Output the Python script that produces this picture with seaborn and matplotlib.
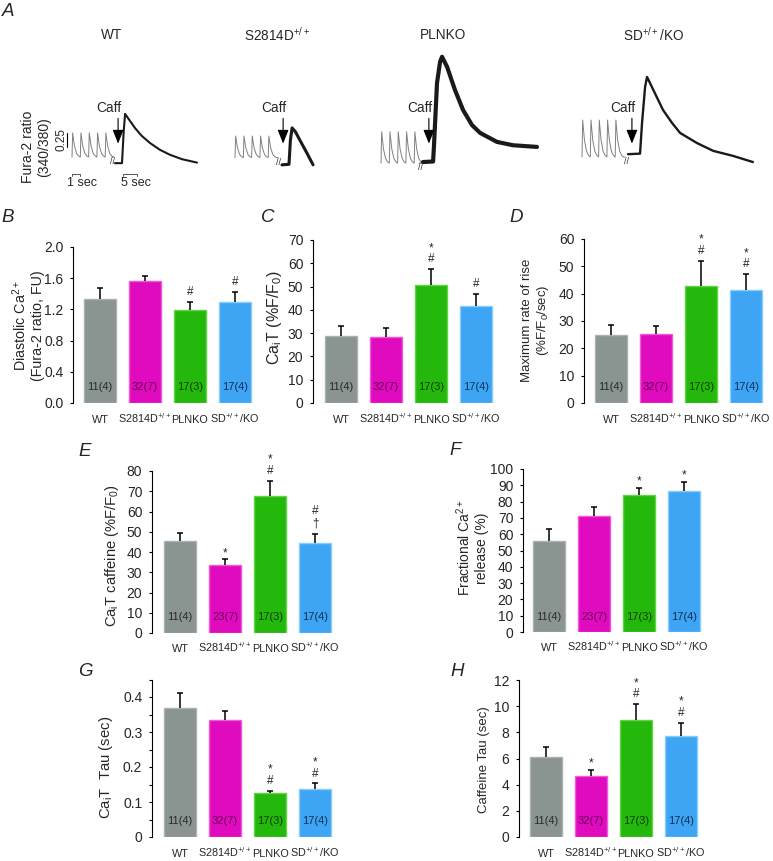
import matplotlib
matplotlib.use("Agg")
import matplotlib.pyplot as plt
from matplotlib.ticker import MultipleLocator, FuncFormatter
import numpy as np
import pandas as pd
import seaborn as sns

# ---- groups -------------------------------------------------------------
GENOTYPES = ["WT", "S2814D", "PLNKO", "SD/KO"]
TICK_LABELS = ["WT", "S2814D$^{+/+}$", "PLNKO", "SD$^{+/+}$/KO"]
BAR_COLORS = ["#8a9490", "#e00abe", "#24b80c", "#3ea4f4"]
EDGE_COLORS = ["#aab3af", "#f05ad6", "#62d448", "#86cdfc"]
N_COLORS = ["#2a2a2a", "#6a0058", "#0e3d04", "#0e3158"]

n_cells = ["11(4)", "32(7)", "17(3)", "17(4)"]
n_cells_caff = ["11(4)", "23(7)", "17(3)", "17(4)"]

# ---- bar panels (mean, SEM) --------------------------------------------
diastolic_mean = [1.33, 1.56, 1.19, 1.30]
diastolic_err = [0.14, 0.07, 0.11, 0.12]
cait_mean = [28.9, 28.2, 50.6, 41.6]
cait_err = [4.3, 4.1, 6.9, 5.2]
rise_mean = [24.9, 25.2, 42.8, 41.3]
rise_err = [3.5, 3.0, 9.3, 5.9]
caff_mean = [45.6, 33.7, 67.7, 44.3]
caff_err = [3.9, 2.7, 7.5, 4.4]
frac_mean = [56.0, 71.2, 83.9, 86.7]
frac_err = [7.0, 5.7, 4.6, 5.3]
tau_mean = [0.370, 0.334, 0.125, 0.138]
tau_err = [0.042, 0.027, 0.007, 0.015]
caff_tau_mean = [6.14, 4.69, 8.94, 7.72]
caff_tau_err = [0.76, 0.43, 1.20, 1.02]

# significance marks, listed bottom -> top
marks_b = [[], [], ["#"], ["#"]]
marks_c = [[], [], ["#", "*"], ["#"]]
marks_d = [[], [], ["#", "*"], ["#", "*"]]
marks_e = [[], ["*"], ["#", "*"], ["\u2020", "#"]]
marks_f = [[], [], ["*"], ["*"]]
marks_g = [[], [], ["#", "*"], ["#", "*"]]
marks_h = [[], ["*"], ["#", "*"], ["#", "*"]]

# ---- panel A traces (ratio 340/380) -------------------------------------
twitch_base = [0.50, 0.49, 0.39, 0.50]
twitch_peak = [0.93, 0.875, 0.95, 1.16]
n_beats = 5
beat_t = [0.0, 0.08, 0.3, 0.55, 0.8, 1.0]
beat_f = [0.0, 1.0, 0.45, 0.15, 0.04, 0.0]

wt_caff_t = [0, 2.5, 3.1, 3.6, 5.0, 7.1, 9.5, 12.5, 16.0, 19.6, 24.0, 29.3]
wt_caff_r = [0.39, 0.39, 0.95, 1.27, 1.17, 1.02, 0.88, 0.75, 0.63, 0.54, 0.46, 0.40]
sd_caff_t = [0, 2.5, 3.0, 3.6, 4.8, 6.4, 8.9, 11.1]
sd_caff_r = [0.36, 0.37, 0.80, 1.02, 0.95, 0.80, 0.57, 0.36]
ko_caff_t = [0, 3.6, 3.9, 5.0, 6.1, 6.8, 8.6, 11.4, 14.3, 17.5, 20.4, 26.4, 32.1, 40.7]
ko_caff_r = [0.41, 0.42, 0.68, 1.82, 2.20, 2.29, 2.11, 1.70, 1.34, 1.07, 0.93, 0.77, 0.71, 0.68]
sdko_caff_t = [0, 4.3, 5.0, 6.1, 6.8, 9.6, 12.5, 15.7, 18.6, 24.6, 30.4, 37.5, 44.6]
sdko_caff_r = [0.55, 0.56, 1.10, 1.75, 1.93, 1.64, 1.34, 1.11, 0.93, 0.75, 0.61, 0.52, 0.41]
caff_arrow_t = [1.1, 0.4, 2.1, 1.4]

W, H = 773, 861
SLOT = 45.0
MARK_SIZE = 8.5
MARK_EM = MARK_SIZE * 100 / 72          # px per em
GLYPH_MID = {"#": 4.1, "*": 6.8, "\u2020": 3.3}   # px above baseline
LP_HEIGHT = 0.95 * MARK_EM
DESCENT = 0.21 * MARK_EM


def fig_box(left, top, right, bottom):
    return [left / W, 1 - bottom / H, (right - left) / W, (bottom - top) / H]


def ftext(fig, x, y, s, **kw):
    fig.text(x / W, 1 - y / H, s, **kw)


def bar_panel(fig, spine_x, first_x, zero_y, top_y, ymax, means, errs, marks,
              ncells, step, fmt, minor=None, tick_pad=14.4):
    right = first_x + 3.5 * SLOT
    ax = fig.add_axes(fig_box(spine_x, top_y, right, zero_y))
    df = pd.DataFrame({"genotype": GENOTYPES, "value": means})
    sns.barplot(data=df, x="genotype", y="value", hue="genotype",
                palette=dict(zip(GENOTYPES, BAR_COLORS)), legend=False,
                width=0.69, saturation=1, linewidth=1.0, ax=ax)
    for patch, ec in zip(ax.patches, EDGE_COLORS):
        patch.set_edgecolor(ec)

    xs = np.arange(len(means))
    tops = np.array(means) + np.array(errs)
    ax.vlines(xs, means, tops, color="black", lw=1.1, zorder=3)
    ax.hlines(tops, xs - 0.075, xs + 0.075, color="black", lw=1.1, zorder=3)

    # stacked significance marks as one text block per bar
    for i, syms in enumerate(marks):
        if not syms:
            continue
        first = 9.5 if syms == ["*"] else 10.5
        ls = 1.0
        if len(syms) > 1:
            gap = 12.7 - (GLYPH_MID[syms[1]] - GLYPH_MID[syms[0]])
            ls = gap / LP_HEIGHT
        off = first - GLYPH_MID[syms[0]] - DESCENT
        ax.annotate("\n".join(reversed(syms)), (i, tops[i]), xytext=(0, off * 0.72),
                    textcoords="offset points", ha="center", va="bottom",
                    fontsize=MARK_SIZE, linespacing=ls, annotation_clip=False)
    for i, n in enumerate(ncells):
        ax.annotate(n, (i, 0), xytext=(0, 15.5 * 0.72), textcoords="offset points",
                    ha="center", va="center", fontsize=8, color=N_COLORS[i])

    ax.set_xlim(-(first_x - spine_x) / SLOT, 3.5)
    ax.set_ylim(0, ymax)
    ax.set_xlabel("")
    ax.set_ylabel("")
    sns.despine(ax=ax, bottom=True)
    ax.spines["left"].set_linewidth(0.8)
    ax.spines["left"].set_color("black")
    ax.set_xticks(xs)
    ax.set_xticklabels(TICK_LABELS, fontsize=7.8, va="baseline")
    ax.tick_params(axis="x", length=0, pad=tick_pad)
    ax.yaxis.set_major_locator(MultipleLocator(step))
    ax.yaxis.set_major_formatter(FuncFormatter(fmt))
    if minor:
        ax.yaxis.set_minor_locator(MultipleLocator(minor))
        ax.tick_params(axis="y", which="minor", length=2.5, width=0.8, color="black")
    ax.tick_params(axis="y", length=2.5, width=0.8, labelsize=10, pad=4.5,
                   direction="out", color="black")
    ax.set_facecolor("none")
    return ax


def main():
    sns.set_style("ticks")
    plt.rcParams["font.family"] = ["Liberation Sans", "DejaVu Sans"]
    plt.rcParams["mathtext.fontset"] = "custom"
    plt.rcParams["mathtext.rm"] = "Liberation Sans"
    plt.rcParams["mathtext.it"] = "Liberation Sans:italic"
    plt.rcParams["mathtext.bf"] = "Liberation Sans:bold"

    fig = plt.figure(figsize=(W / 100, H / 100), dpi=100)

    # ---------------- panel A ----------------
    px_per_ratio = 56.0
    axA = fig.add_axes([0, 1 - 195 / H, 1, 195 / H])
    axA.set_xlim(0, W)
    axA.set_ylim(-10 / px_per_ratio, 185 / px_per_ratio)
    axA.axis("off")

    twitch_x0 = [72, 235, 381, 582]
    beat_px = 8.3
    break_x = [113, 279, 420, 626]
    caff_x0 = [115, 282, 423, 628]
    caff_px = 2.8
    caff_lw = [1.5, 2.2, 3.0, 1.7]
    title_x = [112, 277, 443, 654]
    caff_t = [wt_caff_t, sd_caff_t, ko_caff_t, sdko_caff_t]
    caff_r = [wt_caff_r, sd_caff_r, ko_caff_r, sdko_caff_r]

    for g in range(4):
        tx, ty = [], []
        for k in range(n_beats):
            for ft, ff in zip(beat_t, beat_f):
                tx.append(twitch_x0[g] + (k + ft) * beat_px)
                ty.append(twitch_base[g] + ff * (twitch_peak[g] - twitch_base[g]))
        tx.append(break_x[g] - 1)
        ty.append(twitch_base[g])
        axA.plot(tx, ty, color="#808080", lw=0.7)
        axA.text(break_x[g], twitch_base[g] - 0.08, "//", fontsize=6.5,
                 ha="center", va="center", color="#333333")
        cx = [caff_x0[g] + t * caff_px for t in caff_t[g]]
        axA.plot(cx, caff_r[g], color="#1a1a1a", lw=caff_lw[g],
                 solid_joinstyle="round")
        ax_x = caff_x0[g] + caff_arrow_t[g] * caff_px
        axA.annotate("", xy=(ax_x, 0.74), xytext=(ax_x, 1.19),
                     arrowprops=dict(arrowstyle="-|>,head_width=0.28,head_length=0.7",
                                     color="black", lw=0.8, mutation_scale=12,
                                     shrinkA=0, shrinkB=0))
        axA.text(ax_x - 9.5, 1.375, "Caff", fontsize=9.8, ha="center", va="center")
        ftext(fig, title_x[g], 35, TICK_LABELS[g], fontsize=9.8, ha="center",
              va="center")

    # scale bars
    axA.plot([67, 67], [0.68, 0.93], color="black", lw=0.8)
    axA.text(61.5, 0.805, "0.25", rotation=90, fontsize=8.5, ha="center", va="center")
    bar_r = 0.196
    for x0, length, lab, lx in [(72, beat_px, "1 sec", 82), (123, 5 * caff_px, "5 sec", 136)]:
        axA.plot([x0, x0, x0 + length, x0 + length],
                 [bar_r - 0.035, bar_r, bar_r, bar_r - 0.035], color="#555555", lw=0.7)
        axA.text(lx, 0.03, lab, fontsize=9, ha="center", va="center")
    ftext(fig, 36, 147, "Fura-2 ratio\n(340/380)", rotation=90, fontsize=10,
          ha="center", va="center", linespacing=1.15)

    # ---------------- panels B-H ----------------
    one_dec = lambda v, _: f"{v:.1f}"
    integer = lambda v, _: f"{v:.0f}"
    tau_fmt = lambda v, _: "0" if abs(v) < 1e-9 else f"{v:.1f}"

    bar_panel(fig, 73, 100, 403, 247, 2.0, diastolic_mean, diastolic_err,
              marks_b, n_cells, 0.4, one_dec)
    bar_panel(fig, 313, 341, 403, 240, 70, cait_mean, cait_err,
              marks_c, n_cells, 10, integer)
    bar_panel(fig, 584, 611, 403, 239, 60, rise_mean, rise_err,
              marks_d, n_cells, 10, integer)
    bar_panel(fig, 152, 180, 633, 471, 80, caff_mean, caff_err,
              marks_e, n_cells_caff, 10, integer, tick_pad=13.5)
    bar_panel(fig, 523, 549, 632, 469, 100, frac_mean, frac_err,
              marks_f, n_cells_caff, 10, integer, tick_pad=13.5)
    bar_panel(fig, 152, 180, 837, 679.5, 0.45, tau_mean, tau_err,
              marks_g, n_cells, 0.1, tau_fmt, minor=0.05)
    bar_panel(fig, 519, 546, 837, 680, 12, caff_tau_mean, caff_tau_err,
              marks_h, n_cells, 2, integer)

    # y labels
    ylab = dict(rotation=90, ha="center", va="center", linespacing=1.2)
    ftext(fig, 28, 326, "Diastolic Ca$^{2+}$\n(Fura-2 ratio, FU)", fontsize=10.3, **ylab)
    ftext(fig, 274, 318, "Ca$_\\mathrm{i}$T (%F/F$_0$)", fontsize=11.5, **ylab)
    ftext(fig, 536, 320, "Maximum rate of rise\n(%F/F$_0$/sec)", fontsize=9.5, **ylab)
    ftext(fig, 112, 555, "Ca$_\\mathrm{i}$T caffeine (%F/F$_0$)", fontsize=10.6, **ylab)
    ftext(fig, 472, 548, "Fractional Ca$^{2+}$\nrelease (%)", fontsize=10, **ylab)
    ftext(fig, 106, 767, "Ca$_\\mathrm{i}$T  Tau (sec)", fontsize=10.7, **ylab)
    ftext(fig, 484, 760, "Caffeine Tau (sec)", fontsize=9.5, **ylab)

    # panel letters
    for letter, x, y in [("A", 8, 11), ("B", 8, 218), ("C", 268, 218), ("D", 516, 218),
                         ("E", 85, 452), ("F", 455, 450), ("G", 85, 672), ("H", 457, 672)]:
        ftext(fig, x, y, letter, fontsize=13.5, fontstyle="italic", ha="center", va="center")

    fig.savefig("out.png", dpi=100)
    plt.close(fig)


if __name__ == "__main__":
    main()
